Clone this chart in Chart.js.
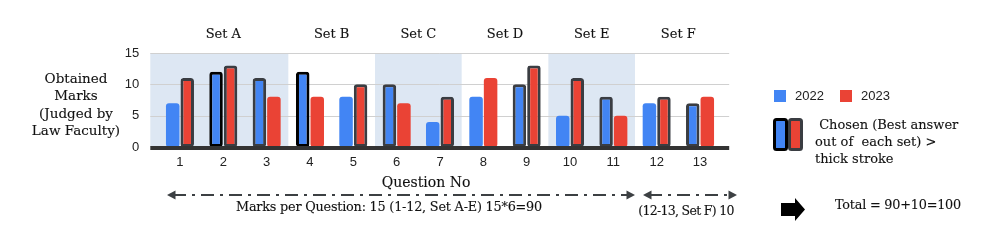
<!DOCTYPE html>
<html><head><meta charset="utf-8">
<script src="https://cdn.jsdelivr.net/npm/chart.js@4.4.1/dist/chart.umd.min.js"></script>
<style>html,body{margin:0;padding:0;background:#fff;}#wrap{width:997px;height:249px;position:relative;}</style>
</head><body><div id="wrap"><canvas id="c" width="997" height="249"></canvas></div>
<script>
// ---- data ----
const questions = ['1','2','3','4','5','6','7','8','9','10','11','12','13'];
const marks2022 = [7,12,11,12,8,10,4,8,10,5,8,7,7];
const marks2023 = [11,13,8,8,10,7,8,11,13,11,5,8,8];
// chosen answer per question: 0 = not chosen, 1 = chosen, 2 = chosen (black outline)
const chosen2022 = [0,2,1,2,0,1,0,0,1,0,1,0,1];
const chosen2023 = [1,1,0,0,1,0,1,0,1,1,0,1,0];
const setNames = ['Set A','Set B','Set C','Set D','Set E','Set F'];
const setFirst = [1,4,6,8,10,12];
const setLast  = [3,5,7,9,11,13];
const shadedSets = ['Set A','Set C','Set E'];
const yTicks = [0,5,10,15];
const yTitleLines = ['Obtained','Marks','(Judged by','Law Faculty)'];
const xTitle = 'Question No';
const chosenNoteLines = [' Chosen (Best answer','out of  each set) >','thick stroke'];
const marksNoteAE = 'Marks per Question: 15 (1-12, Set A-E) 15*6=90';
const marksNoteF = '(12-13, Set F) 10';
const totalNote = 'Total = 90+10=100';

// ---- style ----
const BLUE = '#4285F4', RED = '#EA4335', GRAY_STROKE = '#3a3d42', BLACK = '#000000';
const SHADE = '#dde7f3', GRID = '#d0d0d0', BASE = '#333333', TXT = '#222222', SERIF_TXT = '#111111';
const SERIF = '"DejaVu Serif", serif';
const SANS = '"Liberation Sans", Arial, sans-serif';
const strokeFor = c => c === 2 ? BLACK : (c === 1 ? GRAY_STROKE : 'rgba(0,0,0,0)');

function serifText(ctx, t, x, y, size, spacing) {
  ctx.save();
  ctx.font = size + 'px ' + SERIF;
  ctx.letterSpacing = (spacing || 0) + 'px';
  ctx.fillStyle = SERIF_TXT; ctx.strokeStyle = SERIF_TXT; ctx.lineWidth = 0.12;
  ctx.fillText(t, x, y);
  ctx.strokeText(t, x, y);
  ctx.restore();
}
function arrowHead(ctx, x, y, dir) {
  ctx.beginPath();
  ctx.moveTo(x, y);
  ctx.lineTo(x - dir * 8.5, y - 4.5);
  ctx.lineTo(x - dir * 8.5, y + 4.5);
  ctx.closePath();
  ctx.fill();
}
function dashArrow(ctx, x0, x1, y) {
  ctx.save();
  ctx.strokeStyle = '#3c4043'; ctx.fillStyle = '#3c4043';
  ctx.lineWidth = 2; ctx.setLineDash([13, 6, 3, 6]);
  ctx.beginPath(); ctx.moveTo(x0 + 6, y); ctx.lineTo(x1 - 6, y); ctx.stroke();
  ctx.setLineDash([]);
  arrowHead(ctx, x0, y, -1); arrowHead(ctx, x1, y, 1);
  ctx.restore();
}

const decor = {
  id: 'decor',
  beforeDatasetsDraw(chart) {
    const {ctx, chartArea: a, scales: {x, y}} = chart;
    const gl = a.left - 8, gr = a.right + 7.5;
    const cw = x.width / questions.length;
    ctx.save();
    ctx.fillStyle = SHADE;
    setNames.forEach((n, i) => {
      if (!shadedSets.includes(n)) return;
      let x0 = x.getPixelForValue(setFirst[i] - 1) - cw / 2;
      const x1 = x.getPixelForValue(setLast[i] - 1) + cw / 2;
      if (setFirst[i] === 1) x0 = gl;
      ctx.fillRect(x0, y.getPixelForValue(15), x1 - x0, y.getPixelForValue(0) - y.getPixelForValue(15));
    });
    ctx.strokeStyle = GRID; ctx.lineWidth = 1;
    yTicks.forEach(v => {
      if (v === 0) return;
      const py = Math.round(y.getPixelForValue(v)) + 0.5;
      ctx.beginPath(); ctx.moveTo(gl, py); ctx.lineTo(gr, py); ctx.stroke();
    });
    ctx.restore();
  },
  afterDatasetsDraw(chart) {
    const {ctx, chartArea: a, scales: {y}} = chart;
    const gl = a.left - 8, gr = a.right + 7.5;
    ctx.save();
    ctx.fillStyle = BASE;
    ctx.fillRect(gl, y.getPixelForValue(0) - 1, gr - gl, 4);
    ctx.restore();
  },
  afterDraw(chart) {
    const {ctx, scales: {x}} = chart;
    const cw = x.width / questions.length;
    ctx.save();
    ctx.textBaseline = 'middle';
    ctx.textAlign = 'center';
    setNames.forEach((n, i) => {
      const x0 = x.getPixelForValue(setFirst[i] - 1) - cw / 2;
      const x1 = x.getPixelForValue(setLast[i] - 1) + cw / 2;
      serifText(ctx, n, (x0 + x1) / 2, 35, 13);
    });
    yTitleLines.forEach((t, i) => serifText(ctx, t, 76, 79 + i * 17.5, 13.5));
    serifText(ctx, xTitle, 426, 183, 14);
    dashArrow(ctx, 167, 635, 195);
    dashArrow(ctx, 643, 737, 195);
    serifText(ctx, marksNoteAE, 389, 208, 12.8, -0.2);
    serifText(ctx, marksNoteF, 686, 212, 12.5, -0.7);
    // legend
    const ds = chart.data.datasets;
    ctx.textAlign = 'left';
    ctx.font = '13px ' + SANS;
    [[774, 795], [840, 861]].forEach((p, i) => {
      ctx.fillStyle = ds[i].backgroundColor;
      ctx.fillRect(p[0], 90, 12, 12);
      ctx.fillStyle = TXT;
      ctx.fillText(ds[i].label, p[1], 96.5);
    });
    ctx.lineWidth = 3;
    ctx.fillStyle = BLUE; ctx.strokeStyle = BLACK;
    ctx.beginPath(); ctx.roundRect(774.5, 119.5, 12, 30, 2); ctx.fill(); ctx.stroke();
    ctx.fillStyle = RED; ctx.strokeStyle = GRAY_STROKE;
    ctx.beginPath(); ctx.roundRect(789.5, 119.5, 12, 30, 2); ctx.fill(); ctx.stroke();
    chosenNoteLines.forEach((t, i) => serifText(ctx, t, 815, 126 + i * 17, 13));
    // block arrow
    ctx.fillStyle = '#000';
    ctx.beginPath();
    ctx.moveTo(781, 203); ctx.lineTo(795, 203); ctx.lineTo(795, 198); ctx.lineTo(805, 209.5);
    ctx.lineTo(795, 221); ctx.lineTo(795, 216); ctx.lineTo(781, 216); ctx.closePath(); ctx.fill();
    serifText(ctx, totalNote, 835, 206, 12.8, -0.2);
    ctx.restore();
  }
};

new Chart(document.getElementById('c').getContext('2d'), {
  type: 'bar',
  data: {
    labels: questions,
    datasets: [
      {label: '2022', data: marks2022, backgroundColor: BLUE,
       borderColor: chosen2022.map(strokeFor), borderWidth: chosen2022.map(c => c ? 3 : 0),
       borderRadius: 3, borderSkipped: false},
      {label: '2023', data: marks2023, backgroundColor: RED,
       borderColor: chosen2023.map(strokeFor), borderWidth: chosen2023.map(c => c ? 3 : 0),
       borderRadius: 3, borderSkipped: false}
    ]
  },
  options: {
    responsive: false, animation: false, devicePixelRatio: 1,
    layout: {padding: {left: 108.3, right: 275.3, top: 53, bottom: 78}},
    plugins: {legend: {display: false}, tooltip: {enabled: false}},
    datasets: {bar: {categoryPercentage: 0.67, barPercentage: 0.93}},
    scales: {
      x: {grid: {display: false, drawTicks: false}, border: {display: false},
          ticks: {color: TXT, font: {family: SANS, size: 13}, padding: 8, maxRotation: 0, autoSkip: false},
          afterFit(s) { s.height = 24; }},
      y: {min: 0, max: 15, grid: {display: false, drawTicks: false}, border: {display: false},
          afterBuildTicks(s) { s.ticks = yTicks.map(v => ({value: v})); },
          ticks: {color: TXT, font: {family: SANS, size: 13}, padding: 19},
          afterFit(s) { s.width = 50; }}
    }
  },
  plugins: [decor]
});
</script>
</body></html>
